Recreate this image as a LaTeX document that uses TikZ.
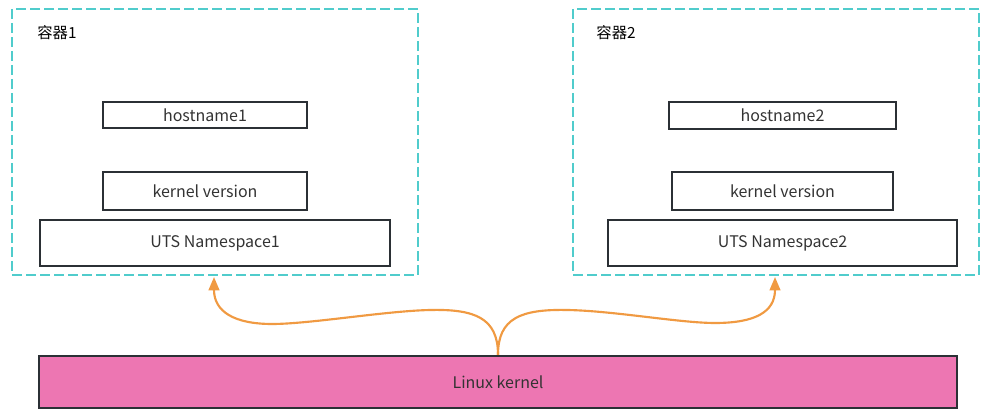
\documentclass[tikz,border=0pt]{standalone}
\usepackage{fontspec}
\setmainfont{Noto Sans CJK SC}
\usetikzlibrary{arrows.meta}

\definecolor{tealdash}{RGB}{80,204,204}
\definecolor{boxline}{RGB}{43,48,53}
\definecolor{kernelpink}{RGB}{237,118,178}
\definecolor{arroworange}{RGB}{240,154,66}
\definecolor{txtgray}{RGB}{51,51,51}

\begin{document}
\begin{tikzpicture}[x=0.75pt,y=-0.75pt,
    container/.style={draw=tealdash,line width=1.6pt,dash pattern=on 7.5pt off 3pt,inner sep=0pt},
    item/.style={draw=boxline,line width=1.8pt,inner sep=0pt,text=txtgray,font=\fontsize{12}{14}\selectfont},
    caption/.style={text=black,font=\fontsize{11.5}{13}\selectfont},
    link/.style={draw=arroworange,line width=1.6pt,-{Triangle[length=10pt,width=8pt]}}]

\useasboundingbox (0,0) rectangle (1000,416);

% ===== Containers =====
\node[container,minimum width=304.5pt,minimum height=199.5pt] (c1) at (215,142) {};
\node[container,minimum width=304.5pt,minimum height=199.5pt] (c2) at (776,142) {};
\node[caption] (cap1) at (57,33) {容器1};
\node[caption] (cap2) at (616,33) {容器2};

% ===== Container 1 =====
\node[item,minimum width=153pt,minimum height=19.5pt] (host1) at (205,115) {hostname1};
\node[item,minimum width=153pt,minimum height=28.5pt] (kver1) at (205,191) {kernel version};
\node[item,minimum width=262.5pt,minimum height=34.5pt] (uts1) at (215,243) {UTS Namespace1};

% ===== Container 2 =====
\node[item,minimum width=170.25pt,minimum height=20.25pt] (host2) at (782.5,115.5) {hostname2};
\node[item,minimum width=165.75pt,minimum height=28.5pt] (kver2) at (782.5,191) {kernel version};
\node[item,minimum width=261.75pt,minimum height=34.5pt] (uts2) at (782.5,243) {UTS Namespace2};

% ===== Kernel =====
\node[item,fill=kernelpink,minimum width=688.5pt,minimum height=39pt] (kernel) at (498,382) {Linux kernel};

% ===== Arrows =====
\coordinate (tip1) at (214,277);
\coordinate (tip2) at (775,277);

\draw[link] (kernel.north) .. controls (498,318) and (475,309) .. (430,310)
    .. controls (385,311) and (310,324) .. (272,324)
    .. controls (235,324) and (214,312) .. (tip1);
\draw[link] (kernel.north) .. controls (498,318) and (521,309) .. (568,310)
    .. controls (615,311) and (680,323) .. (715,323)
    .. controls (755,323) and (775,312) .. (tip2);

\end{tikzpicture}
\end{document}
